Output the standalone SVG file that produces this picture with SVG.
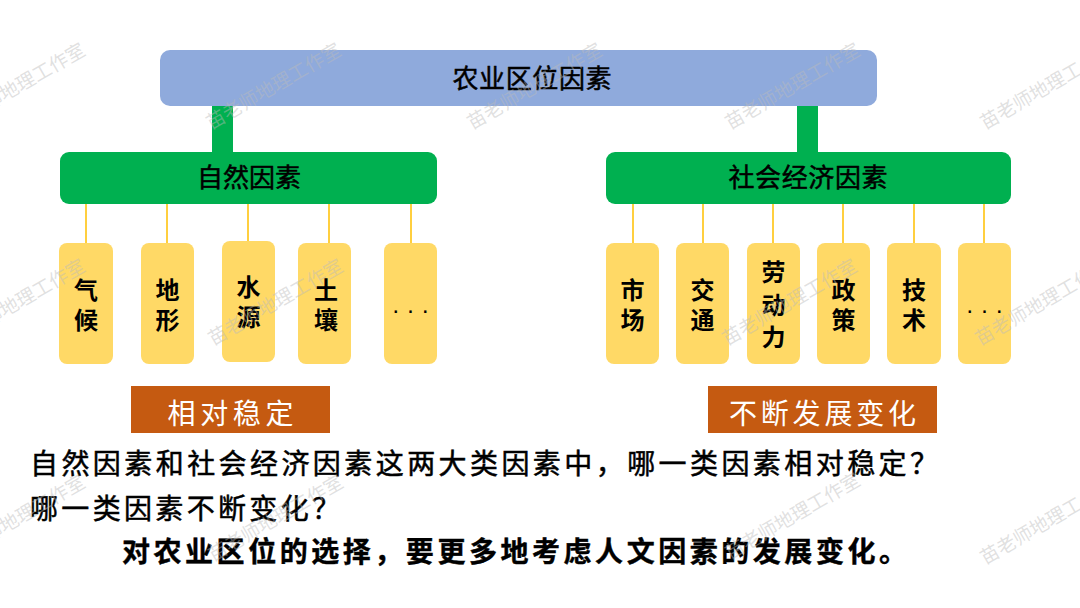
<svg xmlns="http://www.w3.org/2000/svg" width="1080" height="608" viewBox="0 0 1080 608">
<style>
text{font-family:"Noto Sans CJK SC","Noto Sans",sans-serif;}
.top{fill:#8FAADC;}
.grn{fill:#00B050;}
.yel{fill:#FFD966;}
.org{fill:#C55A11;}
.lbl{font-size:26px;fill:#000;stroke:#000;stroke-width:0.5;text-anchor:middle;}
.ylbl{font-size:24px;fill:#000;font-weight:bold;text-anchor:middle;}
.dots{font-family:"Liberation Sans",sans-serif;font-size:24px;fill:#000;text-anchor:middle;}
.olbl{font-size:28px;fill:#fff;text-anchor:middle;}
.q{font-size:28px;fill:#000;stroke:#000;stroke-width:0.5;}
.qb{font-size:28px;fill:#000;font-weight:bold;stroke:#000;stroke-width:0.4;}
.thin{stroke:#FFC000;stroke-width:1.5;fill:none;}
.wm{font-size:19px;fill:#BBBBBB;fill-opacity:0.45;}
</style>
<rect width="1080" height="608" fill="#fff"/>
<g id="connectors">
<rect x="212" y="104" width="21" height="50" fill="#00B050"/>
<rect x="797" y="104" width="21" height="50" fill="#00B050"/>
<path class="thin" d="M86 203V243M167 203V243M248 203V241M329 203V243M411 203V243"/>
<path class="thin" d="M633 203V243M703 203V243M773 203V243M843 203V243M914 203V243M984 203V243"/>
</g>
<g id="root"><rect class="top" x="160" y="50" width="717" height="56" rx="10"/><text class="lbl" x="532" y="88" textLength="159" lengthAdjust="spacing">农业区位因素</text></g>
<g id="natural"><rect class="grn" x="60" y="152" width="377" height="52" rx="9"/><text class="lbl" x="249" y="187" textLength="104" lengthAdjust="spacing">自然因素</text></g>
<g id="social"><rect class="grn" x="606" y="152" width="405" height="52" rx="9"/><text class="lbl" x="808" y="187" textLength="159" lengthAdjust="spacing">社会经济因素</text></g>
<g id="climate"><rect class="yel" x="59" y="243" width="54" height="121" rx="8"/><text class="ylbl" x="86" y="299">气</text><text class="ylbl" x="86" y="329">候</text></g>
<g id="terrain"><rect class="yel" x="141" y="243" width="53" height="121" rx="8"/><text class="ylbl" x="167.5" y="299">地</text><text class="ylbl" x="167.5" y="329">形</text></g>
<g id="water"><rect class="yel" x="222" y="241" width="53" height="121" rx="8"/><text class="ylbl" x="248.5" y="296">水</text><text class="ylbl" x="248.5" y="326">源</text></g>
<g id="soil"><rect class="yel" x="298" y="243" width="53" height="121" rx="8"/><text class="ylbl" x="326" y="299">土</text><text class="ylbl" x="326" y="329">壤</text></g>
<g id="more1"><rect class="yel" x="384" y="243" width="53" height="121" rx="8"/><text class="dots" x="410.5" y="318">· · ·</text></g>
<g id="market"><rect class="yel" x="606" y="243" width="53" height="121" rx="8"/><text class="ylbl" x="632.5" y="299">市</text><text class="ylbl" x="632.5" y="329">场</text></g>
<g id="transport"><rect class="yel" x="676" y="243" width="53" height="121" rx="8"/><text class="ylbl" x="702.5" y="299">交</text><text class="ylbl" x="702.5" y="329">通</text></g>
<g id="labor"><rect class="yel" x="747" y="243" width="53" height="121" rx="8"/><text class="ylbl" x="773.5" y="281">劳</text><text class="ylbl" x="773.5" y="314">动</text><text class="ylbl" x="773.5" y="346">力</text></g>
<g id="policy"><rect class="yel" x="817" y="243" width="53" height="121" rx="8"/><text class="ylbl" x="843.5" y="299">政</text><text class="ylbl" x="843.5" y="329">策</text></g>
<g id="tech"><rect class="yel" x="887" y="243" width="54" height="121" rx="8"/><text class="ylbl" x="914" y="299">技</text><text class="ylbl" x="914" y="329">术</text></g>
<g id="more2"><rect class="yel" x="958" y="243" width="53" height="121" rx="8"/><text class="dots" x="984.5" y="318">· · ·</text></g>
<g id="stable"><rect class="org" x="131" y="386" width="199" height="47"/><text class="olbl" x="230.5" y="424" textLength="126" lengthAdjust="spacing">相对稳定</text></g>
<g id="changing"><rect class="org" x="708" y="386" width="229" height="47"/><text class="olbl" x="822.5" y="424" textLength="187" lengthAdjust="spacing">不断发展变化</text></g>
<g id="questions">
<text class="q" x="30" y="474" textLength="908" lengthAdjust="spacing">自然因素和社会经济因素这两大类因素中，哪一类因素相对稳定？</text>
<text class="q" x="30" y="519" textLength="310" lengthAdjust="spacing">哪一类因素不断变化？</text>
<text class="qb" x="122" y="562" textLength="785" lengthAdjust="spacing">对农业区位的选择，要更多地考虑人文因素的发展变化。</text>
</g>
<g id="watermarks">
<text class="wm" transform="translate(-45 130) rotate(-30)">苗老师地理工作室</text>
<text class="wm" transform="translate(211 130) rotate(-30)">苗老师地理工作室</text>
<text class="wm" transform="translate(472 130) rotate(-30)">苗老师地理工作室</text>
<text class="wm" transform="translate(730 130) rotate(-30)">苗老师地理工作室</text>
<text class="wm" transform="translate(985 130) rotate(-30)">苗老师地理工作室</text>
<text class="wm" transform="translate(-45 346) rotate(-30)">苗老师地理工作室</text>
<text class="wm" transform="translate(213 346) rotate(-30)">苗老师地理工作室</text>
<text class="wm" transform="translate(727 346) rotate(-30)">苗老师地理工作室</text>
<text class="wm" transform="translate(980 346) rotate(-30)">苗老师地理工作室</text>
<text class="wm" transform="translate(-45 562) rotate(-30)">苗老师地理工作室</text>
<text class="wm" transform="translate(213 562) rotate(-30)">苗老师地理工作室</text>
<text class="wm" transform="translate(730 560) rotate(-30)">苗老师地理工作室</text>
<text class="wm" transform="translate(985 565) rotate(-30)">苗老师地理工作室</text>
</g>
</svg>
